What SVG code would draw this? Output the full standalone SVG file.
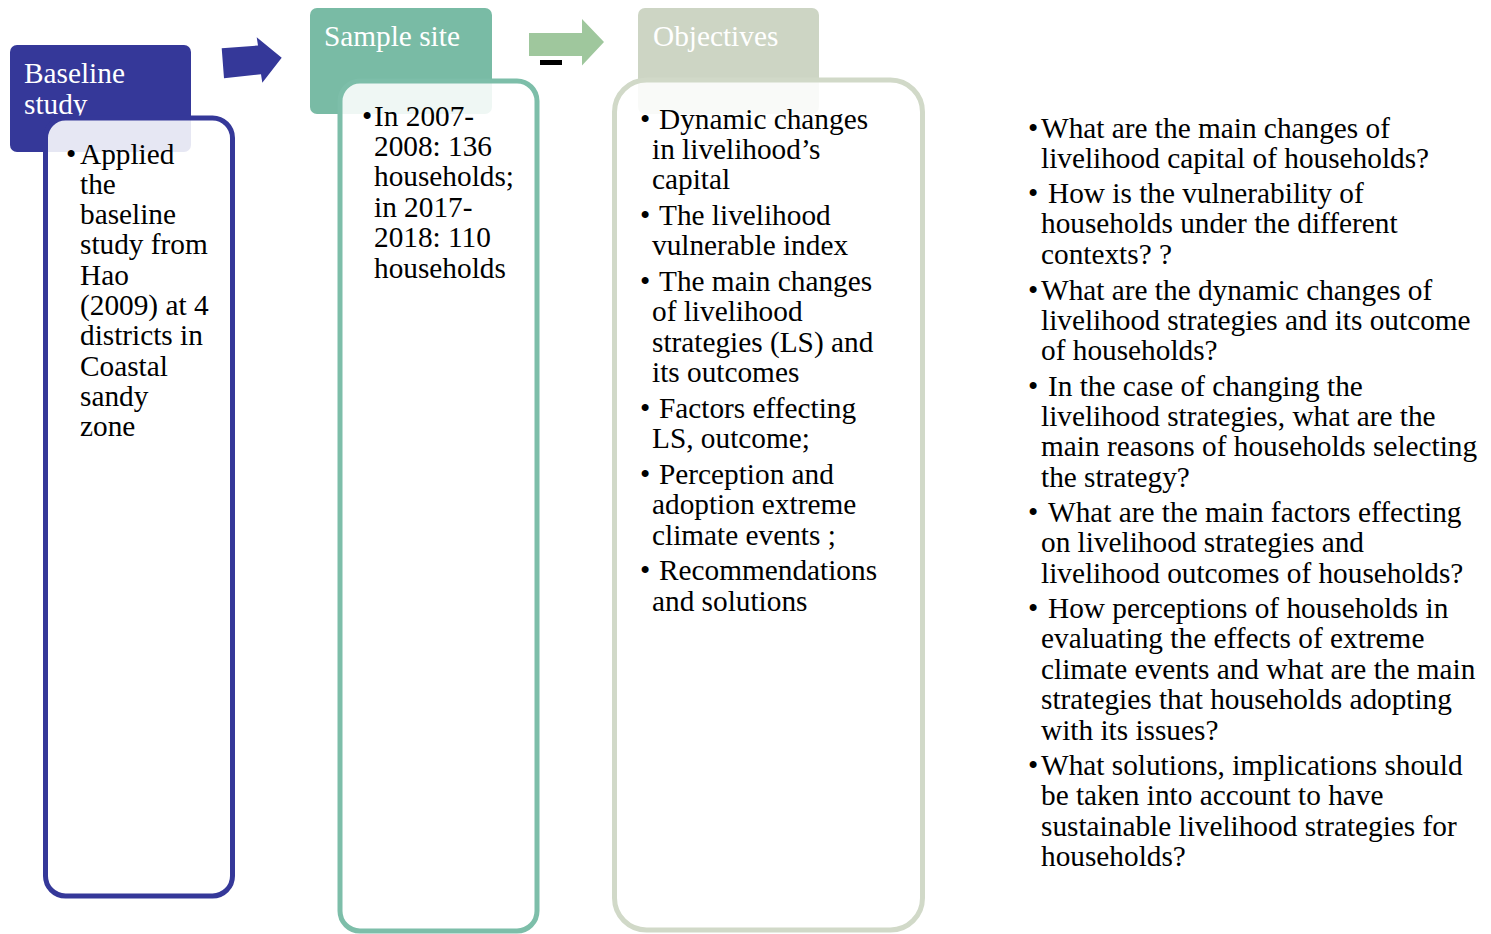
<svg xmlns="http://www.w3.org/2000/svg" width="1491" height="934" viewBox="0 0 1491 934">
  <style>
    .txt { font-family: "Liberation Serif", "Times New Roman", serif; font-size: 29.3px; fill: #000; }
    .head { font-family: "Liberation Serif", "Times New Roman", serif; font-size: 29.3px; fill: #fff; }
    .panel { fill: #fff; fill-opacity: 0.88; stroke-width: 5; }
  </style>
  <rect width="1491" height="934" fill="#fff"/>

  <!-- Baseline study -->
  <g id="node-baseline">
    <rect x="10" y="45" width="181" height="107" rx="7" fill="#353899"/>
    <text class="head" x="24" y="82.5">Baseline</text>
    <text class="head" x="24" y="113.5">study</text>
    <rect class="panel" x="45.5" y="118" width="187" height="778" rx="20" stroke="#353899"/>
    <text class="txt" x="66" y="163.5">•</text>
    <text class="txt">
      <tspan x="80" y="163.5">Applied</tspan>
      <tspan x="80" y="193.8">the</tspan>
      <tspan x="80" y="224.1">baseline</tspan>
      <tspan x="80" y="254.4">study from</tspan>
      <tspan x="80" y="284.7">Hao</tspan>
      <tspan x="80" y="315">(2009) at 4</tspan>
      <tspan x="80" y="345.3">districts in</tspan>
      <tspan x="80" y="375.6">Coastal</tspan>
      <tspan x="80" y="405.9">sandy</tspan>
      <tspan x="80" y="436.2">zone</tspan>
    </text>
  </g>

  <!-- Sample site -->
  <g id="node-sample">
    <rect x="310" y="8" width="182" height="106" rx="7" fill="#79BBA5"/>
    <text class="head" x="324" y="45.5">Sample site</text>
    <rect class="panel" x="340" y="81" width="197" height="850" rx="20" stroke="#7DBEA9"/>
    <text class="txt" x="362" y="125.5">•</text>
    <text class="txt">
      <tspan x="374" y="125.5">In 2007-</tspan>
      <tspan x="374" y="155.9">2008: 136</tspan>
      <tspan x="374" y="186.3">households;</tspan>
      <tspan x="374" y="216.7">in 2017-</tspan>
      <tspan x="374" y="247.1">2018: 110</tspan>
      <tspan x="374" y="277.5">households</tspan>
    </text>
  </g>

  <!-- Objectives -->
  <g id="node-objectives">
    <rect x="638" y="8" width="181" height="106" rx="7" fill="#CDD5C4"/>
    <text class="head" x="653" y="45.5">Objectives</text>
    <rect class="panel" x="614.5" y="80" width="308" height="850" rx="32" stroke="#D1D9C8"/>
    <text class="txt" x="640" y="128.5">•</text>
    <text class="txt" x="640" y="224.9">•</text>
    <text class="txt" x="640" y="290.9">•</text>
    <text class="txt" x="640" y="417.7">•</text>
    <text class="txt" x="640" y="483.7">•</text>
    <text class="txt" x="640" y="580.1">•</text>
    <text class="txt">
      <tspan x="659" y="128.5">Dynamic changes</tspan>
      <tspan x="652" y="158.9">in livelihood’s</tspan>
      <tspan x="652" y="189.3">capital</tspan>
      <tspan x="659" y="224.9">The livelihood</tspan>
      <tspan x="652" y="255.3">vulnerable index</tspan>
      <tspan x="659" y="290.9">The main changes</tspan>
      <tspan x="652" y="321.3">of livelihood</tspan>
      <tspan x="652" y="351.7">strategies (LS) and</tspan>
      <tspan x="652" y="382.1">its outcomes</tspan>
      <tspan x="659" y="417.7">Factors effecting</tspan>
      <tspan x="652" y="448.1">LS, outcome;</tspan>
      <tspan x="659" y="483.7">Perception and</tspan>
      <tspan x="652" y="514.1">adoption extreme</tspan>
      <tspan x="652" y="544.5">climate events ;</tspan>
      <tspan x="659" y="580.1">Recommendations</tspan>
      <tspan x="652" y="610.5">and solutions</tspan>
    </text>
  </g>

  <!-- Research questions -->
  <g id="node-questions">
    <text class="txt" x="1028" y="137.5">•</text>
    <text class="txt" x="1028" y="202.5">•</text>
    <text class="txt" x="1028" y="299.5">•</text>
    <text class="txt" x="1028" y="395.5">•</text>
    <text class="txt" x="1028" y="521.5">•</text>
    <text class="txt" x="1028" y="617.5">•</text>
    <text class="txt" x="1028" y="774.5">•</text>
    <text class="txt">
      <tspan x="1041" y="137.5">What are the main changes of</tspan>
      <tspan x="1041" y="167.5">livelihood capital of households?</tspan>
      <tspan x="1048" y="202.5">How is the vulnerability of</tspan>
      <tspan x="1041" y="232.5">households under the different</tspan>
      <tspan x="1041" y="263.5">contexts? ?</tspan>
      <tspan x="1041" y="299.5">What are the dynamic changes of</tspan>
      <tspan x="1041" y="329.5">livelihood strategies and its outcome</tspan>
      <tspan x="1041" y="359.5">of households?</tspan>
      <tspan x="1048" y="395.5">In the case of changing the</tspan>
      <tspan x="1041" y="425.5">livelihood strategies, what are the</tspan>
      <tspan x="1041" y="455.5">main reasons of households selecting</tspan>
      <tspan x="1041" y="486.5">the strategy?</tspan>
      <tspan x="1048" y="521.5">What are the main factors effecting</tspan>
      <tspan x="1041" y="551.5">on livelihood strategies and</tspan>
      <tspan x="1041" y="582.5">livelihood outcomes of households?</tspan>
      <tspan x="1048" y="617.5">How perceptions of households in</tspan>
      <tspan x="1041" y="647.5">evaluating the effects of extreme</tspan>
      <tspan x="1041" y="678.5">climate events and what are the main</tspan>
      <tspan x="1041" y="708.5">strategies that households adopting</tspan>
      <tspan x="1041" y="739.5">with its issues?</tspan>
      <tspan x="1041" y="774.5">What solutions, implications should</tspan>
      <tspan x="1041" y="804.5">be taken into account to have</tspan>
      <tspan x="1041" y="835.5">sustainable livelihood strategies for</tspan>
      <tspan x="1041" y="865.5">households?</tspan>
    </text>
  </g>

  <!-- Block arrows between stages -->
  <g id="connectors">
    <polygon points="221.7,48.3 258,45.5 256.7,37.3 281.7,57.7 262.3,82.7 261,74.3 224,78.3" fill="#353899"/>
    <polygon points="529,33 582,33 582,19 604,42 582,65.5 582,56 529,56" fill="#9FC79D"/>
    <rect x="540" y="60" width="22" height="5" fill="#000"/>
  </g>
</svg>
